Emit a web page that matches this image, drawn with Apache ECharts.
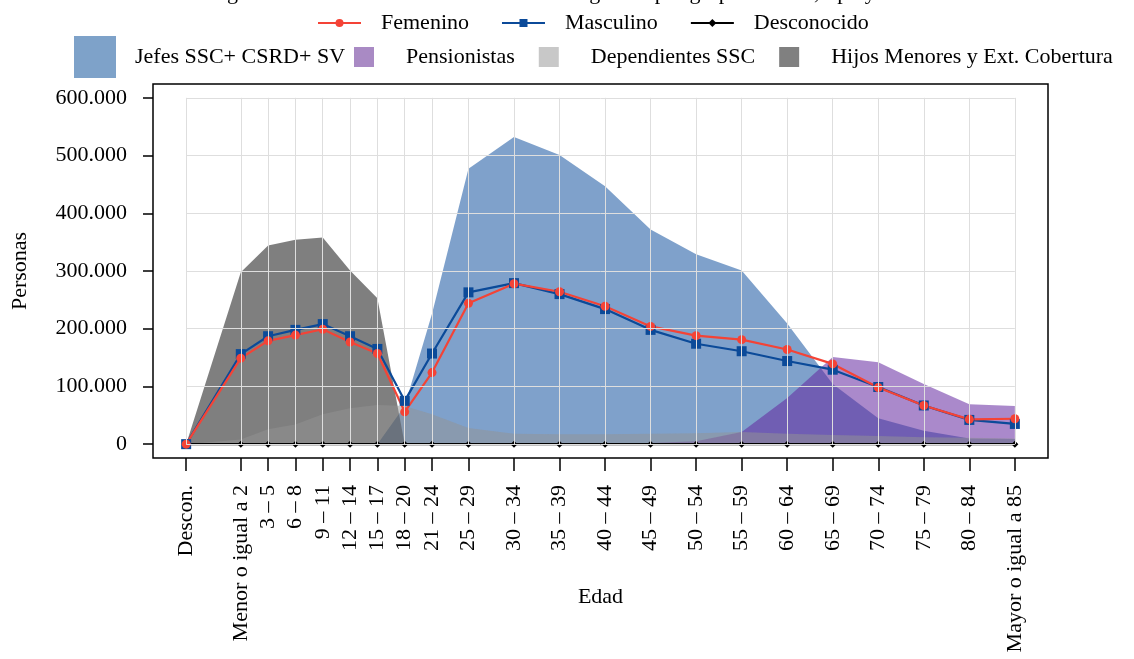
<!DOCTYPE html>
<html>
<head>
<meta charset="utf-8">
<script src="https://cdn.jsdelivr.net/npm/echarts@6/dist/echarts.min.js"></script>
<style>
  html, body { margin: 0; padding: 0; background: #fff; }
  #chart { width: 1134px; height: 659px; }
</style>
</head>
<body>
<div id="chart"></div>
<script>
// posiciones en el eje de edad (año inicial del grupo; Descon. a la izquierda)
const agePos = [-6, 0, 3, 6, 9, 12, 15, 18, 21, 25, 30, 35, 40, 45, 50, 55, 60, 65, 70, 75, 80, 85]
const ageLabels = ['Descon.', 'Menor o igual a 2', '3 – 5', '6 – 8', '9 – 11', '12 – 14', '15 – 17',
  '18 – 20', '21 – 24', '25 – 29', '30 – 34', '35 – 39', '40 – 44', '45 – 49', '50 – 54',
  '55 – 59', '60 – 64', '65 – 69', '70 – 74', '75 – 79', '80 – 84', 'Mayor o igual a 85']
const yTicks = [0, 100000, 200000, 300000, 400000, 500000, 600000]

const jefes = [0, 0, 0, 0, 0, 0, 0, 66000, 226000, 477000, 532000, 501000, 447000, 372000, 329000,
  301000, 209000, 104000, 45000, 23000, 10000, 9000]
const pensionistas = [0, 0, 0, 0, 0, 0, 0, 0, 0, 0, 0, 0, 0, 2000, 5000, 21000, 80000, 151000,
  142000, 104000, 69000, 66000]
const hijos = [0, 298000, 344000, 354000, 358000, 301000, 253000, 0, 0, 0, 0, 0, 0, 0, 0, 0, 0, 0,
  0, 0, 0, 0]
const dependientes = [0, 8000, 26000, 34000, 52000, 62000, 68000, 66000, 52000, 28000, 18000, 17000,
  17000, 18000, 19000, 21000, 18000, 16000, 14000, 12000, 11000, 10000]

const femenino = [0, 149000, 179000, 189000, 199000, 177000, 157000, 56000, 124000, 244000, 278000,
  264000, 239000, 204000, 188000, 181000, 164000, 139000, 98000, 67000, 43000, 44000]
const masculino = [0, 156000, 187000, 198000, 208000, 187000, 165000, 75000, 157000, 263000, 279000,
  260000, 234000, 198000, 174000, 161000, 144000, 129000, 99000, 67000, 42000, 35000]
const desconocido = [0, 0, 0, 0, 0, 0, 0, 0, 0, 0, 0, 0, 0, 0, 0, 0, 0, 0, 0, 0, 0, 0]

const FONT = 'Liberation Serif'
const pairs = arr => arr.map((v, i) => [agePos[i], v])
const miles = v => String(v).replace(/\B(?=(\d{3})+(?!\d))/g, '.')

const chart = echarts.init(document.getElementById('chart'))

// líneas de la cuadrícula sólo dentro del rango de datos
const gridLines = []
yTicks.forEach(t => gridLines.push([{ coord: [agePos[0], t] }, { coord: [agePos[agePos.length - 1], t] }]))
agePos.forEach(a => gridLines.push([{ coord: [a, yTicks[0]] }, { coord: [a, yTicks[yTicks.length - 1]] }]))

const areaSeries = (name, data, color) => ({
  name,
  type: 'line',
  data: pairs(data),
  showSymbol: false,
  symbol: 'none',
  lineStyle: { width: 0 },
  areaStyle: { color, opacity: 1 },
  itemStyle: { color },
  z: 2,
  silent: true
})

const lineSeries = (name, data, color, symbol, size) => ({
  name,
  type: 'line',
  data: pairs(data),
  symbol,
  symbolSize: size,
  lineStyle: { color, width: 2.2 },
  itemStyle: { color },
  z: 3
})

const option = {
  animation: false,
  textStyle: { fontFamily: FONT, color: '#000' },
  title: {
    text: 'Figura 5.3 Distribución de la Población asegurada por grupo de edad, tipo y Sexo',
    left: 'center',
    top: -23,
    textStyle: { fontFamily: FONT, fontSize: 22, fontWeight: 'normal', color: '#000' }
  },
  legend: [
    {
      data: ['Femenino', 'Masculino', 'Desconocido'],
      left: 317, top: 12, padding: 0,
      itemWidth: 43, itemHeight: 10, itemGap: 32,
      textStyle: { fontFamily: FONT, fontSize: 22, color: '#000', padding: [0, 0, 0, 15] }
    },
    {
      data: [{ name: 'Jefes SSC+ CSRD+ SV', icon: 'rect', itemStyle: { color: '#7ea2c9' } }],
      left: 74, top: 36, padding: 0,
      itemWidth: 42, itemHeight: 42,
      textStyle: { fontFamily: FONT, fontSize: 22, color: '#000', padding: [0, 0, 0, 14] }
    },
    {
      data: [
        { name: 'Pensionistas', icon: 'rect', itemStyle: { color: '#a98ac4' } },
        { name: 'Dependientes SSC', icon: 'rect', itemStyle: { color: '#c8c8c8' } },
        { name: 'Hijos Menores y Ext. Cobertura', icon: 'rect', itemStyle: { color: '#808080' } }
      ],
      left: 354, top: 46, padding: 0,
      itemWidth: 20, itemHeight: 20, itemGap: 24,
      textStyle: { fontFamily: FONT, fontSize: 22, color: '#000', padding: [0, 0, 0, 27] }
    }
  ],
  grid: {
    left: 153, right: 86, top: 84, bottom: 201,
    outerBoundsMode: 'none',
    containLabel: false,
    show: true, borderColor: '#000', borderWidth: 1.5, backgroundColor: 'transparent'
  },
  xAxis: {
    type: 'value',
    min: -9.64, max: 88.64,
    name: 'Edad',
    nameLocation: 'middle',
    nameGap: 128,
    nameMoveOverlap: false,
    nameTextStyle: { fontFamily: FONT, fontSize: 22, color: '#000' },
    axisLine: { show: false, onZero: false },
    axisTick: { show: true, length: 13, customValues: agePos, lineStyle: { color: '#000', width: 1.5 } },
    axisLabel: {
      customValues: agePos,
      rotate: 90,
      margin: 27,
      fontFamily: FONT, fontSize: 22, color: '#000',
      formatter: v => ageLabels[agePos.indexOf(v)]
    },
    splitLine: { show: false }
  },
  yAxis: {
    type: 'value',
    min: -24000, max: 624000,
    name: 'Personas',
    nameLocation: 'middle',
    nameGap: 122,
    nameMoveOverlap: false,
    nameTextStyle: { fontFamily: FONT, fontSize: 22, color: '#000' },
    axisLine: { show: false, onZero: false },
    axisTick: { show: true, length: 10, customValues: yTicks, lineStyle: { color: '#000', width: 1.5 } },
    axisLabel: {
      customValues: yTicks,
      margin: 26,
      fontFamily: FONT, fontSize: 22, color: '#000',
      formatter: v => miles(v)
    },
    splitLine: { show: false }
  },
  series: [
    {
      name: 'grid',
      type: 'line',
      data: [],
      z: 1,
      silent: true,
      markLine: {
        silent: true,
        symbol: 'none',
        label: { show: false },
        lineStyle: { color: '#dedede', width: 1, type: 'solid' },
        data: gridLines
      }
    },
    areaSeries('Jefes SSC+ CSRD+ SV', jefes, 'rgba(58,110,175,0.65)'),
    areaSeries('Pensionistas', pensionistas, 'rgba(100,40,160,0.55)'),
    areaSeries('Hijos Menores y Ext. Cobertura', hijos, 'rgba(0,0,0,0.5)'),
    areaSeries('Dependientes SSC', dependientes, 'rgba(147,147,147,0.51)'),
    lineSeries('Desconocido', desconocido, '#000000', 'diamond', 7),
    lineSeries('Masculino', masculino, '#0b4a99', 'rect', 10),
    lineSeries('Femenino', femenino, '#f44336', 'circle', 9)
  ]
}

chart.setOption(option)
window.addEventListener('resize', () => chart.resize())
</script>
</body>
</html>
